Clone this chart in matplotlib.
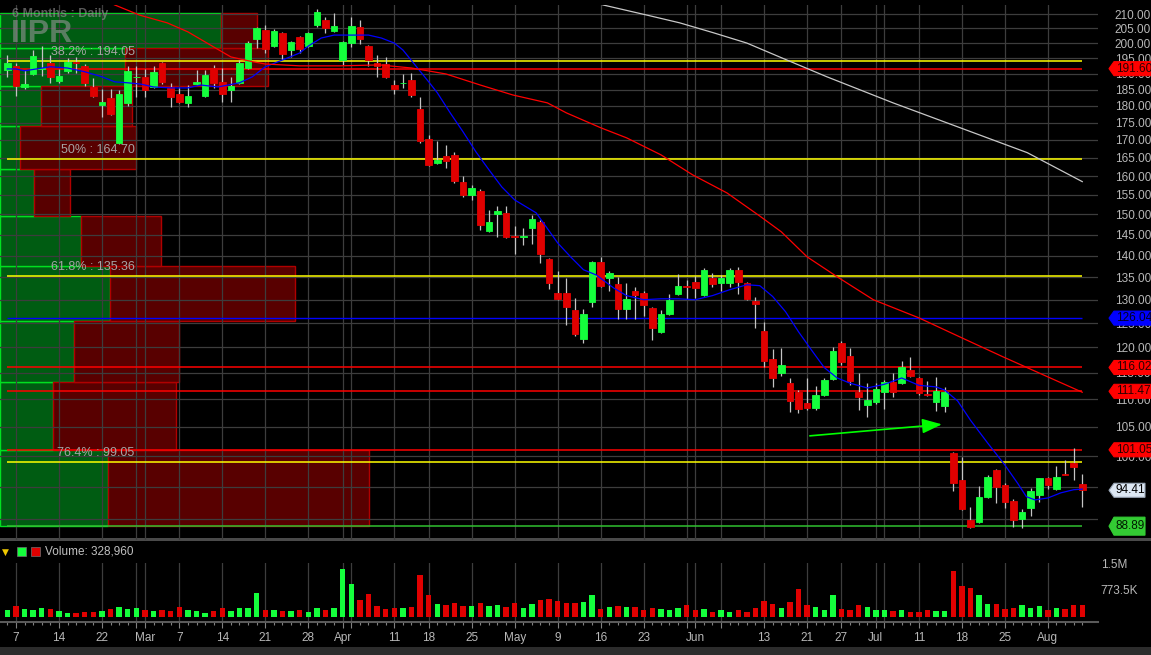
#!/usr/bin/env python3
"""
IIPR 6 month daily chart: candles, moving averages, fib / support levels,
volume-by-price profile and a volume panel. Saves out.png (1151x655).
"""

import numpy as np
import pandas as pd
import matplotlib
matplotlib.use("Agg")
import matplotlib.pyplot as plt
from matplotlib.patches import Polygon, Rectangle
from matplotlib.ticker import NullLocator
from matplotlib.transforms import ScaledTranslation, blended_transform_factory

plt.rcParams['font.family'] = ['Liberation Sans', 'DejaVu Sans']

W, H, DPI = 1151, 655, 100

# ---------------- data ----------------
TICKER = "IIPR"
PERIOD = "6 Months : Daily"

holidays = ["2022-02-21", "2022-04-15", "2022-05-30", "2022-06-20", "2022-07-04"]
days = pd.bdate_range("2022-02-04", "2022-08-05")
days = days[~days.isin(pd.to_datetime(holidays))]

opens = [191.2, 192.5, 185.8, 189.9, 191.5, 193.4, 187.7, 190.9, 193.8, 192.5,
         185.8, 180.3, 182.4, 169.1, 180.9, 188.8, 189.0, 185.8, 193.4, 185.8,
         183.7, 180.9, 186.7, 183.0, 191.8, 187.4, 184.9, 187.1, 191.8, 201.3,
         204.5, 199.0, 203.5, 197.7, 202.0, 199.0, 206.2, 207.9, 204.1, 194.4,
         200.0, 205.5, 199.0, 193.4, 193.1, 186.4, 186.9, 188.0, 179.1, 170.3,
         163.6, 165.5, 165.8, 158.5, 155.0, 156.0, 145.9, 150.2, 150.4, 144.7,
         144.5, 146.7, 148.1, 139.2, 131.5, 131.5, 127.8, 121.7, 129.6, 138.5,
         134.8, 133.5, 128.0, 132.0, 131.5, 128.2, 123.2, 127.0, 131.3, 133.1,
         134.0, 131.1, 134.8, 133.8, 133.8, 136.7, 133.8, 129.8, 123.4, 117.7,
         115.0, 113.0, 111.3, 109.3, 108.4, 110.8, 113.8, 120.9, 118.3, 111.3,
         109.0, 109.5, 111.3, 113.2, 113.0, 115.6, 114.0, 110.9, 109.5, 108.7,
         100.5, 96.1, 89.8, 89.5, 93.4, 97.7, 95.3, 92.8, 90.0, 91.6,
         93.7, 96.3, 94.6, 97.1, 98.8, 95.4]
highs = [196.0, 193.4, 191.2, 197.7, 199.0, 196.0, 191.5, 195.1, 195.4, 193.1,
         188.6, 185.2, 185.2, 184.9, 192.5, 192.5, 191.5, 192.5, 193.8, 187.1,
         185.8, 186.4, 191.2, 191.2, 192.8, 191.8, 189.0, 194.4, 200.7, 205.5,
         206.2, 204.8, 203.8, 200.7, 202.4, 203.8, 211.8, 208.9, 210.3, 200.6,
         209.0, 207.9, 199.3, 196.0, 195.4, 188.0, 189.9, 190.2, 182.7, 171.5,
         169.7, 168.6, 166.6, 160.1, 157.6, 156.6, 151.2, 152.2, 152.2, 147.1,
         146.7, 149.9, 148.6, 139.5, 136.5, 134.8, 130.4, 128.0, 138.8, 139.7,
         136.5, 135.0, 133.8, 132.9, 132.0, 128.5, 127.8, 131.3, 135.8, 134.4,
         135.3, 137.2, 136.0, 135.5, 137.2, 137.4, 134.0, 130.7, 125.3, 119.7,
         119.9, 114.0, 111.7, 114.0, 112.5, 114.0, 120.1, 121.2, 119.9, 115.0,
         113.0, 113.0, 113.6, 115.0, 117.3, 118.1, 114.2, 113.4, 114.2, 112.3,
         100.7, 99.8, 91.8, 95.1, 96.8, 97.9, 95.5, 93.0, 91.5, 94.8,
         96.4, 96.6, 98.3, 99.3, 101.3, 97.1]
lows = [189.0, 183.0, 185.2, 189.5, 189.3, 187.1, 187.1, 190.2, 190.2, 186.1,
        182.7, 176.7, 177.3, 168.8, 180.0, 182.7, 182.7, 185.5, 186.7, 179.7,
        180.9, 179.7, 186.4, 182.7, 185.5, 181.2, 181.2, 186.8, 191.5, 198.4,
        196.7, 198.7, 194.4, 195.4, 196.7, 198.7, 205.5, 203.5, 203.8, 192.8,
        198.7, 199.7, 192.5, 189.0, 188.7, 183.7, 185.5, 182.7, 169.1, 162.8,
        163.3, 162.2, 158.2, 154.5, 153.7, 146.2, 145.7, 144.4, 144.2, 140.4,
        142.5, 142.7, 138.3, 132.4, 130.0, 124.6, 122.4, 120.9, 128.5, 132.9,
        132.0, 125.9, 125.9, 125.9, 126.5, 121.5, 123.0, 126.8, 131.1, 130.2,
        130.4, 130.9, 132.9, 132.0, 132.9, 131.3, 130.0, 124.0, 116.2, 112.3,
        114.4, 107.6, 107.5, 108.0, 108.0, 110.6, 113.6, 116.6, 112.7, 108.0,
        106.7, 109.1, 108.2, 110.4, 112.8, 114.2, 110.8, 110.6, 107.8, 107.6,
        94.3, 91.4, 88.6, 89.4, 93.2, 92.4, 91.6, 88.7, 88.6, 90.4,
        92.6, 94.6, 94.5, 96.8, 96.1, 91.8]
closes = [193.4, 186.1, 186.7, 195.7, 191.8, 189.0, 189.3, 193.8, 193.4, 187.1,
          183.0, 181.2, 177.6, 183.7, 190.9, 189.0, 184.9, 190.6, 187.4, 182.7,
          181.2, 183.0, 187.4, 189.6, 187.1, 183.7, 186.1, 193.4, 200.0, 205.2,
          198.0, 204.1, 196.4, 200.3, 198.0, 203.5, 210.7, 205.2, 205.9, 200.3,
          205.9, 201.3, 194.4, 192.5, 189.0, 185.2, 187.1, 183.3, 169.7, 163.0,
          164.4, 164.1, 158.7, 155.0, 156.8, 147.4, 148.1, 150.9, 144.4, 144.5,
          144.7, 148.9, 140.4, 133.8, 130.2, 128.5, 122.8, 127.0, 138.5, 133.1,
          136.0, 128.0, 130.2, 131.1, 128.9, 124.0, 127.0, 130.0, 133.1, 132.9,
          132.6, 136.7, 133.5, 134.8, 136.7, 134.0, 130.2, 129.1, 117.3, 114.0,
          116.6, 109.7, 108.2, 108.4, 110.8, 113.6, 119.3, 117.1, 113.4, 110.4,
          109.9, 111.9, 113.2, 111.3, 116.2, 114.4, 111.1, 110.7, 111.5, 111.3,
          95.6, 91.5, 88.7, 93.4, 96.6, 95.0, 92.6, 89.8, 91.0, 94.3,
          96.3, 95.3, 96.6, 96.9, 98.2, 94.41]
volumes = [187000, 300000, 215000, 187000, 243000, 215000, 159000, 112000, 112000, 131000,
           131000, 159000, 215000, 271000, 215000, 243000, 187000, 159000, 187000, 159000,
           271000, 187000, 159000, 103000, 159000, 243000, 159000, 243000, 243000, 663000,
           187000, 187000, 159000, 159000, 187000, 131000, 243000, 187000, 243000, 1335000,
           924000, 467000, 644000, 300000, 215000, 243000, 243000, 271000, 1167000, 607000,
           355000, 327000, 383000, 300000, 300000, 383000, 300000, 327000, 271000, 383000,
           243000, 355000, 467000, 495000, 439000, 383000, 383000, 411000, 607000, 215000,
           271000, 300000, 271000, 271000, 187000, 243000, 215000, 187000, 243000, 327000,
           187000, 215000, 131000, 187000, 131000, 187000, 131000, 243000, 439000, 355000,
           243000, 411000, 775000, 327000, 271000, 187000, 607000, 215000, 187000, 327000,
           271000, 187000, 187000, 159000, 187000, 131000, 131000, 187000, 159000, 159000,
           1279000, 868000, 821000, 607000, 355000, 355000, 215000, 243000, 327000, 243000,
           300000, 187000, 243000, 215000, 327000, 328960]

ma_fast_idx = [0, 1, 2, 5, 7, 9, 11, 12.5, 14, 15.5, 17, 19, 21, 22.5, 24.5, 27, 28.5, 30, 32, 34,
               35, 36.5, 38, 40, 42, 43.5, 45, 46, 47.5, 49, 50, 51.5, 53, 54.5, 56, 57.5, 59, 61.5, 64, 65.5,
               67, 68.5, 70.5, 72, 74, 76, 78, 80, 82, 84, 86, 87.5, 89, 90.5, 92, 93.5, 95, 96.5, 98, 100,
               102, 104, 106, 108, 109, 110.5, 112, 114, 116, 117.5, 118.5, 119.5, 121, 122.5, 124, 125]
ma_fast_val = [191.5, 191.5, 190.9, 192.2, 191.8, 190.6, 189.0, 187.4, 187.1, 186.7,
               185.8, 185.5, 185.5, 186.4, 185.8, 187.1, 189.0, 192.2, 194.4, 196.7,
               199.0, 201.7, 202.7, 202.7, 202.7, 201.7, 200.0, 197.7, 192.5, 187.4,
               184.0, 177.9, 172.3, 166.6, 161.7, 157.1, 153.7, 150.4, 143.0, 139.7,
               136.7, 135.5, 132.6, 130.9, 130.0, 130.2, 130.2, 130.0, 130.9, 132.2,
               133.3, 133.1, 130.7, 127.4, 123.2, 119.5, 116.0, 114.0, 113.0, 112.1,
               112.8, 114.0, 112.6, 112.3, 111.7, 109.7, 106.2, 102.2, 98.5, 95.5,
               93.4, 92.9, 93.2, 94.0, 94.5, 94.6]
ma_mid_idx = [10, 12.5, 15.4, 18.6, 21, 24, 26, 28.6, 30, 34, 38.7, 43.3, 47, 51, 55, 58.8, 62.8,
              65, 69, 72, 76, 79.7, 83.7, 87.5, 90, 93, 96.5, 100.7, 106, 110.8, 115.8, 121, 125]
ma_mid_val = [217.0, 213.2, 209.6, 206.9, 203.8, 198.7, 195.4, 193.8, 193.1, 192.5,
              192.5, 192.8, 191.8, 189.9, 186.4, 183.3, 180.9, 177.9, 173.5, 170.6,
              165.8, 160.3, 155.5, 149.6, 145.7, 139.7, 135.1, 130.0, 126.1, 122.1,
              118.1, 114.2, 111.3]
ma_slow_idx = [65, 69.3, 74.4, 78.2, 82.1, 86.0, 89.8, 95.3, 103.0, 110.8, 118.6, 125]
ma_slow_val = [218.0, 213.2, 209.6, 206.9, 203.5, 200.0, 195.4, 189.0, 180.9, 173.5, 166.4, 158.5]

fib_levels = [194.05, 164.70, 135.36, 99.05]
fib_names = ["38.2%", "50%", "61.8%", "76.4%"]
red_levels = [191.60, 116.02, 111.47, 101.05]
blue_level = 126.04
low_level = 88.89
last_price = closes[-1]

# volume by price: bin edges and up / down volume (millions)
profile_edges = [88.89, 101.04, 113.19, 125.34, 137.49, 149.64, 161.80, 173.95, 186.10, 198.25, 210.40]
profile_up = [2.70, 1.33, 1.85, 2.75, 2.03, 0.85, 0.50, 1.03, 3.13, 5.53]
profile_down = [6.53, 3.08, 2.63, 4.63, 2.00, 0.90, 2.90, 2.28, 3.58, 0.90]

arrow_days = ["2022-06-21", "2022-07-14"]
arrow_prices = [103.4, 105.5]

label_days = ["2022-02-07", "2022-02-14", "2022-02-22", "2022-03-01", "2022-03-07", "2022-03-14",
              "2022-03-21", "2022-03-28", "2022-04-01", "2022-04-11", "2022-04-18", "2022-04-25",
              "2022-05-02", "2022-05-09", "2022-05-16", "2022-05-23", "2022-06-01", "2022-06-13",
              "2022-06-21", "2022-06-27", "2022-07-01", "2022-07-11", "2022-07-18", "2022-07-25",
              "2022-08-01"]
label_text = ["7", "14", "22", "Mar", "7", "14", "21", "28", "Apr", "11", "18", "25",
              "May", "9", "16", "23", "Jun", "13", "21", "27", "Jul", "11", "18", "25", "Aug"]
grid_only_days = ["2022-02-28", "2022-04-04", "2022-05-31", "2022-06-06", "2022-07-05"]

price_ticks = list(range(90, 211, 5))
vol_ticks = [773500, 1500000]
vol_tick_labels = ["773.5K", "1.5M"]

# ---------------- style ----------------
UP = "#14ff3c"
DOWN = "#e00000"
WICK = "#c4c4c4"
GRID = "#3d3d3d"
TXT = "#b8b8b8"


def fx(px):
    return px / W


def fy(py):
    return 1 - py / H


fig = plt.figure(figsize=(W / DPI, H / DPI), dpi=DPI, facecolor="black")
ax = fig.add_axes([0, fy(540), fx(1098), (540 - 5) / H])
axv = fig.add_axes([0, fy(622), fx(1098), (622 - 563) / H], sharex=ax)
for a in (ax, axv):
    a.set_facecolor("black")
    for s in a.spines.values():
        s.set_visible(False)

x = np.arange(len(days))
pos = {d: i for i, d in enumerate(days.strftime("%Y-%m-%d"))}
o, h, l, c = map(np.array, (opens, highs, lows, closes))
up = c >= o
colors = np.where(up, UP, DOWN)

ax.set_yscale("log")
ax.set_ylim(86.85, 213.2)
ax.set_xlim(-0.85, 126.83)

# volume profile on a twin axis drawn underneath
axp = ax.twiny()
axp.set_zorder(0)
ax.set_zorder(1)
ax.patch.set_visible(False)
edges = np.array(profile_edges)
axp.barh(edges[:-1], profile_up, height=np.diff(edges), left=0, align="edge",
         color="#005c12", edgecolor="#00e020", linewidth=1.0)
axp.barh(edges[:-1], profile_down, height=np.diff(edges), left=profile_up, align="edge",
         color="#580000", edgecolor="#b00000", linewidth=1.0)
axp.set_xlim(0, max(np.add(profile_up, profile_down)) / 0.336)
axp.axis("off")

# level lines
x0, x1 = x[0], x[-1]
ax.hlines(fib_levels, x0, x1, color="#ffff00", lw=1.1, zorder=2)
ax.hlines(red_levels, x0, x1, color="#ff0000", lw=1.1, zorder=2)
ax.hlines(blue_level, x0, x1, color="#0000ff", lw=1.0, zorder=2)
ax.hlines(low_level, x0, x1, color="#30c030", lw=1.1, zorder=2)
for lev, name in zip(fib_levels, fib_names):
    ax.annotate(f"{name} : {lev:.2f}", (14.8, lev), xytext=(0, 2), textcoords="offset points",
                ha="right", va="bottom", fontsize=9, color="#a4a4a4", zorder=3)

# candles
ax.vlines(x, l, h, color=WICK, lw=0.9, zorder=4)
ax.bar(x, np.abs(c - o), bottom=np.minimum(o, c), width=0.76, color=colors,
       edgecolor=colors, linewidth=0.6, zorder=5)

# moving averages
ax.plot(ma_fast_idx, ma_fast_val, color="#0000ff", lw=0.9, zorder=6)
ax.plot(ma_mid_idx, ma_mid_val, color="#ff0000", lw=0.9, zorder=6)
ax.plot(ma_slow_idx, ma_slow_val, color="#c8c8c8", lw=0.9, zorder=6)

# trend arrow
ax.annotate("", xy=(pos[arrow_days[1]], arrow_prices[1]),
            xytext=(pos[arrow_days[0]], arrow_prices[0]),
            arrowprops=dict(arrowstyle="-|>,head_length=0.8,head_width=0.3",
                            color="#00ff00", lw=1.2, mutation_scale=15), zorder=7)

# axes, ticks, grid
ax.yaxis.tick_right()
ax.set_yticks(price_ticks, labels=[f"{t:.2f}" if t >= 100 else "" for t in price_ticks])
ax.yaxis.set_minor_locator(NullLocator())
ax.tick_params(axis="y", length=0, pad=12, labelsize=8.5, labelcolor=TXT)

major_pos = sorted([pos[d] for d in label_days] + [pos[d] for d in grid_only_days])
lab = {pos[d]: t for d, t in zip(label_days, label_text)}
axv.set_xticks(major_pos)
axv.set_xticklabels([lab.get(p, "") for p in major_pos])
axv.set_xticks(x, minor=True)
ax.tick_params(axis="x", which="both", length=0, labelbottom=False)
axv.tick_params(axis="x", which="major", length=4, width=0.8, color="#808080",
                labelsize=8.5, labelcolor=TXT, pad=3)
axv.tick_params(axis="x", which="minor", length=2.2, width=0.8, color="#808080")
ax.grid(True, color=GRID, lw=0.9)
ax.set_axisbelow(True)

# volume panel
axv.bar(x, volumes, width=0.64, color=colors, zorder=3)
axv.set_ylim(-140000, 1512000)
axv.yaxis.tick_right()
axv.set_yticks(vol_ticks)
axv.set_yticklabels(vol_tick_labels)
axv.tick_params(axis="y", length=0, pad=2, labelsize=8.5, labelcolor=TXT)
axv.grid(True, axis="x", color=GRID, lw=0.9)
axv.set_axisbelow(True)
axv.spines["bottom"].set_visible(True)
axv.spines["bottom"].set_color("#5a5a5a")
axv.spines["bottom"].set_linewidth(1.5)

# price tags on the right scale
band = blended_transform_factory(ax.transAxes, ax.transData)
tag_levels = [191.60, blue_level, 116.02, 111.47, 101.05, last_price, low_level]
tag_face = ["#ff0000", "#0000ff", "#ff0000", "#ff0000", "#ff0000", "#dde7f3", "#33cc33"]
tag_ink = ["#2a0000", "#000020", "#2a0000", "#2a0000", "#2a0000", "#000000", "#001a00"]
tag_len = [60, 60, 60, 60, 60, 47, 47]
tag_half = [7, 7, 7, 7, 7, 7, 9]
for lev, fc, ink, ln, hf in zip(tag_levels, tag_face, tag_ink, tag_len, tag_half):
    tr = fig.dpi_scale_trans + ScaledTranslation(1.0, lev, band)
    shape = np.array([[11, 0], [16, hf], [ln, hf], [ln, -hf], [16, -hf]]) / DPI
    fig.add_artist(Polygon(shape, closed=True, transform=tr, facecolor=fc,
                           edgecolor="#9aa6b6" if fc == "#dde7f3" else fc, lw=0.8, zorder=10))
    fig.text(18 / DPI, 0, f"{lev:.2f}", transform=tr, ha="left", va="center",
             fontsize=8.5, color=ink, zorder=11)

# titles
fig.text(fx(12), fy(14), PERIOD, ha="left", va="center", fontsize=9, fontweight="bold",
         color="#969696", alpha=0.6)
fig.text(fx(11), fy(34), TICKER, ha="left", va="center", fontsize=23, fontweight="bold",
         color="#969696", alpha=0.6)

# panel separator, volume legend row, bottom strip
fig.add_artist(Rectangle((0, fy(541)), 1, 3 / H, transform=fig.transFigure,
                         facecolor="#4a4a4a", edgecolor="none"))
fig.text(fx(5), fy(552), "\u25bc", ha="center", va="center", fontsize=6.5,
         color="#f0c800", family=["DejaVu Sans"])
fig.add_artist(Rectangle((fx(17), fy(556)), 9 / W, 9 / H, transform=fig.transFigure,
                         facecolor=UP, edgecolor="#707070", lw=0.5))
fig.add_artist(Rectangle((fx(31), fy(556)), 9 / W, 9 / H, transform=fig.transFigure,
                         facecolor=DOWN, edgecolor="#707070", lw=0.5))
fig.text(fx(45), fy(552), f"Volume: {volumes[-1]:,}", ha="left", va="center",
         fontsize=8.5, color="#c0c0c0")
fig.add_artist(Rectangle((0, 0), 1, 8 / H, transform=fig.transFigure,
                         facecolor="#2c2c2c", edgecolor="none"))

fig.savefig("out.png", dpi=DPI, facecolor="black")
